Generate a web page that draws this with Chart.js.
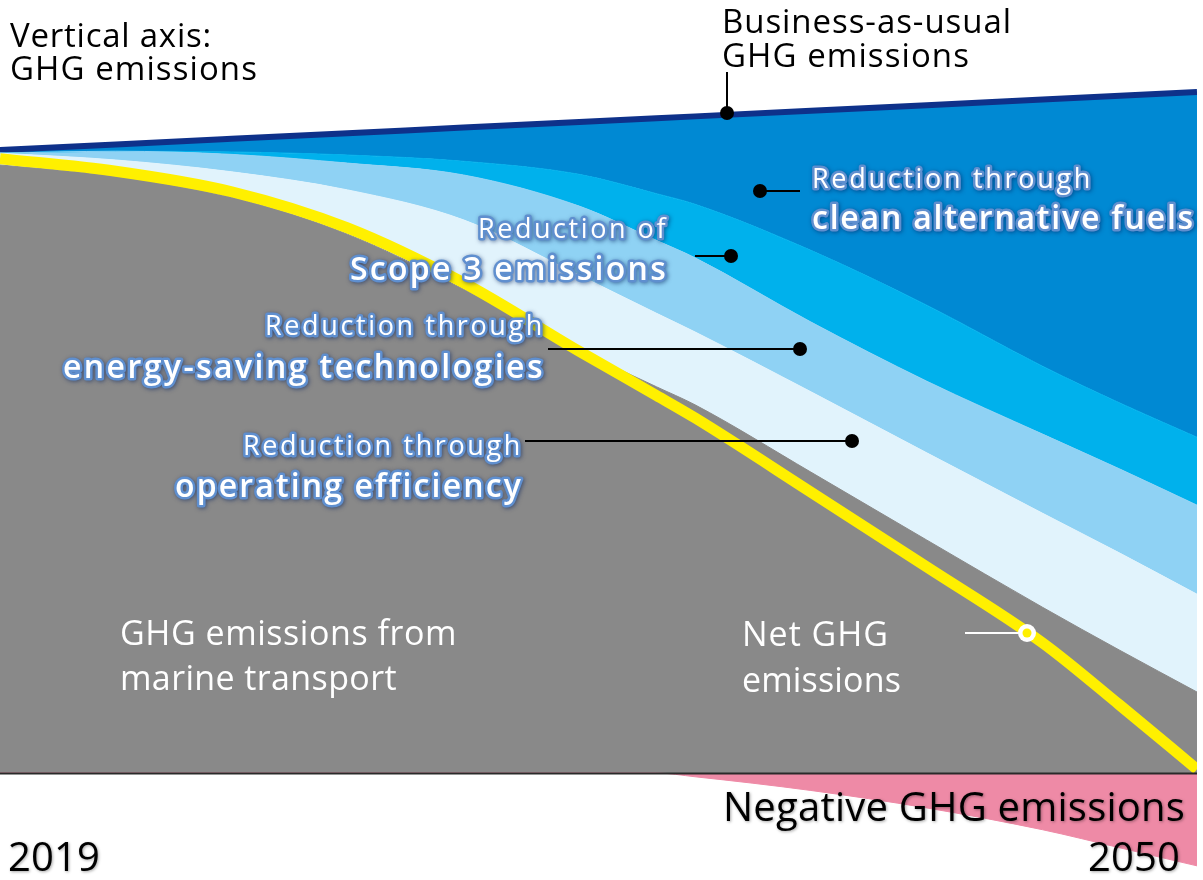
<!DOCTYPE html>
<html><head><meta charset="utf-8">
<script src="https://cdn.jsdelivr.net/npm/chart.js@4"></script>
<style>html,body{margin:0;padding:0;background:#fff;} #wrap{position:relative;width:1203px;height:880px;}</style>
</head><body><div id="wrap"><canvas id="c"></canvas></div>
<script>
const years = [2019, 2022, 2025, 2028, 2031, 2034, 2036, 2037, 2040, 2043, 2046, 2048, 2050];
const grossEmissions      = [97.6, 95.8, 92.4, 86.5, 77.7, 67.9, 62.0, 59.1, 48.3, 37.4, 26.6, 19.7, 13.0];
const operatingEfficiency = [1.9, 2.6, 4.1, 7.1, 11.1, 12.0, 11.8, 11.7, 12.9, 14.0, 15.1, 15.6, 15.7];
const energySaving        = [0, 1.4, 2.8, 4.3, 7.2, 11.1, 11.7, 11.9, 11.2, 11.5, 12.7, 13.5, 14.3];
const scope3Reduction     = [0, 0, 0.4, 1.3, 2.2, 5.1, 7.5, 8.6, 11.5, 12.2, 10.9, 10.6, 10.9];
const cleanFuels          = [0.5, 1.1, 2.1, 3.5, 5.4, 8.4, 12.1, 14.1, 22.4, 32.1, 42.8, 49.3, 55.4];
const netEmissions        = [98.6, 96.6, 93.3, 87.5, 78.7, 67.7, 60.6, 57.0, 45.1, 33.1, 20.9, 10.9, 0.6];
const negativeEmissions   = [0, 0, 0, 0, 0, 0, 0, -0.6, -2.8, -5.6, -9.1, -12.0, -14.9];

const pts = arr => arr.map((v, i) => ({x: years[i], y: v}));
const FONT = '"Open Sans", "Noto Sans", sans-serif';

function band(data, color, fill, extra) {
  return Object.assign({
    data: pts(data), stack: 'main', fill: fill,
    backgroundColor: color, borderColor: color, borderWidth: 1,
    pointRadius: 0, cubicInterpolationMode: 'monotone', order: 1
  }, extra || {});
}

function drawLabel(ctx, text, x, y, o) {
  ctx.save();
  ctx.font = o.font;
  ctx.textBaseline = 'alphabetic';
  ctx.textAlign = 'left';
  ctx.letterSpacing = '0px';
  const w0 = ctx.measureText(text).width;
  let ls = 0;
  if (o.width) ls = (o.width - w0) / text.length;
  ctx.letterSpacing = ls.toFixed(2) + 'px';
  const w = o.width || w0;
  const left = o.align === 'right' ? x - w : x;
  if (o.outline) {
    ctx.lineJoin = 'round';
    ctx.shadowColor = 'rgba(0,30,90,0.55)';
    ctx.shadowBlur = 4; ctx.shadowOffsetX = 1; ctx.shadowOffsetY = 1;
    ctx.strokeStyle = '#5f8fcf';
    ctx.lineWidth = 5;
    ctx.strokeText(text, left, y);
    ctx.shadowColor = 'transparent';
    ctx.fillStyle = '#ffffff';
    ctx.fillText(text, left, y);
  } else {
    if (o.shadow) {
      ctx.shadowColor = 'rgba(0,0,0,0.35)';
      ctx.shadowBlur = 3; ctx.shadowOffsetX = 1; ctx.shadowOffsetY = 1;
    }
    ctx.fillStyle = o.color || '#000';
    ctx.fillText(text, left, y);
  }
  ctx.restore();
}

function dot(ctx, x, y, r, c) { ctx.beginPath(); ctx.arc(x, y, r, 0, Math.PI * 2); ctx.fillStyle = c; ctx.fill(); }
function seg(ctx, x1, y1, x2, y2, c, w) { ctx.beginPath(); ctx.moveTo(x1, y1); ctx.lineTo(x2, y2); ctx.strokeStyle = c; ctx.lineWidth = w; ctx.stroke(); }

const annotations = {
  id: 'annotations',
  afterDraw(chart) {
    const ctx = chart.ctx;
    const a = chart.chartArea;
    const y0 = chart.scales.y.getPixelForValue(0);
    seg(ctx, a.left, y0 + 0.5, a.right, y0 + 0.5, '#2a2a2a', 2);

    seg(ctx, 727, 72, 727, 113, '#000', 2); dot(ctx, 727, 113, 7, '#000');
    seg(ctx, 760, 191, 800, 191, '#000', 2); dot(ctx, 760, 191, 7, '#000');
    seg(ctx, 695, 256, 731, 256, '#000', 2); dot(ctx, 731, 256, 7, '#000');
    seg(ctx, 548, 349, 800, 349, '#000', 2); dot(ctx, 800, 349, 7, '#000');
    seg(ctx, 525, 441, 852, 441, '#000', 2); dot(ctx, 852, 441, 7, '#000');
    seg(ctx, 965, 633, 1027, 633, '#fff', 2); dot(ctx, 1027, 633, 9, '#fff'); dot(ctx, 1027, 633, 4.5, '#fff000');

    const reg = s => s + 'px ' + FONT;
    const semi = s => '600 ' + s + 'px ' + FONT;
    drawLabel(ctx, 'Vertical axis:', 10, 47, {font: reg(33), width: 202});
    drawLabel(ctx, 'GHG emissions', 10, 80, {font: reg(33), width: 248});
    drawLabel(ctx, 'Business-as-usual', 722, 33, {font: reg(33), width: 290});
    drawLabel(ctx, 'GHG emissions', 722, 67, {font: reg(33), width: 248});

    drawLabel(ctx, 'Reduction through', 812, 188, {font: reg(27), width: 281, outline: true});
    drawLabel(ctx, 'clean alternative fuels', 812, 229, {font: semi(32), width: 383, outline: true});
    drawLabel(ctx, 'Reduction of', 668, 238, {font: reg(27), width: 190, outline: true, align: 'right'});
    drawLabel(ctx, 'Scope 3 emissions', 668, 280, {font: semi(32), width: 318, outline: true, align: 'right'});
    drawLabel(ctx, 'Reduction through', 545, 335, {font: reg(27), width: 280, outline: true, align: 'right'});
    drawLabel(ctx, 'energy-saving technologies', 545, 378, {font: semi(32), width: 482, outline: true, align: 'right'});
    drawLabel(ctx, 'Reduction through', 523, 455, {font: reg(27), width: 280, outline: true, align: 'right'});
    drawLabel(ctx, 'operating efficiency', 523, 497, {font: semi(32), width: 348, outline: true, align: 'right'});

    drawLabel(ctx, 'GHG emissions from', 120, 645, {font: reg(34), width: 337, color: '#fff'});
    drawLabel(ctx, 'marine transport', 120, 690, {font: reg(34), width: 277, color: '#fff'});
    drawLabel(ctx, 'Net GHG', 742, 646, {font: reg(34), width: 147, color: '#fff'});
    drawLabel(ctx, 'emissions', 742, 692, {font: reg(34), width: 159, color: '#fff'});

    drawLabel(ctx, 'Negative GHG emissions', 723, 821, {font: reg(40), width: 462, shadow: true});
    drawLabel(ctx, '2019', 8, 871, {font: reg(40), width: 92, shadow: true});
    drawLabel(ctx, '2050', 1180, 871, {font: reg(40), width: 92, shadow: true, align: 'right'});
  }
};

new Chart(document.getElementById('c'), {
  type: 'line',
  data: {
    datasets: [
      band(grossEmissions, '#898989', 'origin'),
      band(operatingEfficiency, '#e1f3fc', '-1'),
      band(energySaving, '#8fd2f4', '-1'),
      band(scope3Reduction, '#00b1ec', '-1'),
      band(cleanFuels, '#0089d3', '-1', {borderColor: '#0e318a', borderWidth: 6}),
      {data: pts(netEmissions), stack: 'net', fill: false, borderColor: '#fff000', borderWidth: 11,
       pointRadius: 0, cubicInterpolationMode: 'monotone', order: 0},
      {data: pts(negativeEmissions), stack: 'neg', fill: 'origin', backgroundColor: '#ee8aa6',
       borderColor: '#ee8aa6', borderWidth: 1, pointRadius: 0, cubicInterpolationMode: 'monotone', order: 0}
    ]
  },
  options: {
    responsive: true, maintainAspectRatio: false, animation: false,
    layout: {padding: {left: 0, right: 6, top: 0, bottom: 0}},
    plugins: {legend: {display: false}, tooltip: {enabled: false},
              filler: {drawTime: 'beforeDatasetsDraw', propagate: false}},
    scales: {
      x: {type: 'linear', min: 2019, max: 2050, display: false},
      y: {stacked: true, min: -17.17, max: 124.08, display: false}
    }
  },
  plugins: [annotations]
});
</script>
</body></html>
